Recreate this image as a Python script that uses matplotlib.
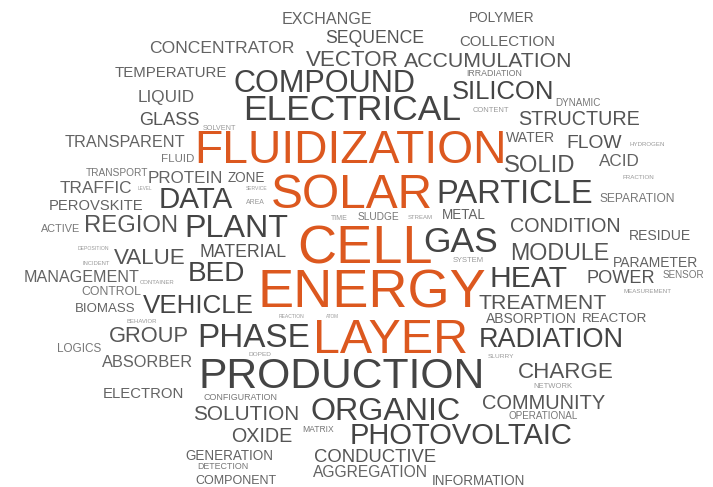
import matplotlib
matplotlib.use("Agg")
import matplotlib.pyplot as plt

# --------------------------------------------------
# Data: keywords and their weights (font height, px)
# --------------------------------------------------

WORDS = [
    "FLUIDIZATION", "SOLAR", "CELL", "ENERGY", "LAYER", "PRODUCTION",
    "ELECTRICAL", "COMPOUND", "PARTICLE", "GAS", "PLANT", "DATA", "HEAT",
    "PHASE", "ORGANIC", "PHOTOVOLTAIC", "SILICON", "BED", "VEHICLE",
    "RADIATION", "REGION", "SOLID", "MODULE", "VALUE", "VECTOR",
    "ACCUMULATION", "CHARGE", "GROUP", "TREATMENT", "SOLUTION", "COMMUNITY",
    "STRUCTURE", "CONDITION", "OXIDE", "FLOW", "MATERIAL", "CONDUCTIVE",
    "POWER", "GLASS", "SEQUENCE", "CONCENTRATOR", "TRAFFIC", "LIQUID",
    "ACID", "PROTEIN", "ABSORBER", "EXCHANGE", "TRANSPARENT", "MANAGEMENT",
    "AGGREGATION", "TEMPERATURE", "COLLECTION", "ELECTRON", "PEROVSKITE",
    "RESIDUE", "WATER", "ABSORPTION", "PARAMETER", "POLYMER", "ZONE",
    "METAL", "INFORMATION", "GENERATION", "REACTOR", "BIOMASS", "COMPONENT",
    "CONTROL", "SEPARATION", "LOGICS", "FLUID", "ACTIVE", "SLUDGE",
    "TRANSPORT", "SENSOR", "DYNAMIC", "OPERATIONAL", "CONFIGURATION",
    "DETECTION", "IRRADIATION", "MATRIX", "NETWORK", "SYSTEM", "CONTENT",
    "SOLVENT", "TIME", "AREA", "DOPED", "SLURRY", "FRACTION", "HYDROGEN",
    "MEASUREMENT", "STREAM", "BEHAVIOR", "CONTAINER", "INCIDENT",
    "DEPOSITION", "REACTION", "SERVICE", "LEVEL", "ATOM",
]

WEIGHTS = [
    44.5, 46, 52, 52, 46.5, 41,
    34, 29.5, 31.5, 34, 31, 28.5, 29,
    32, 31, 28, 24.7, 27, 25,
    26, 23, 23, 22.4, 21.5, 21.5,
    20.5, 21.5, 21, 20.5, 20, 19.3,
    19, 19, 19, 18.5, 17, 17.8,
    17.5, 17.5, 17, 16.8, 16.6, 16.5,
    16.5, 16.4, 15.7, 15.5, 15.6, 15.5,
    15, 14.4, 14.4, 14.3, 14.2,
    13.5, 13.5, 13.3, 13.3, 13.1, 13,
    13, 13, 13, 12.9, 12.7, 12,
    11.8, 11.5, 11.3, 11, 10.5, 9.8,
    9.8, 9.5, 9.5, 9.5, 8.5,
    8.5, 8.4, 8.2, 7.4, 7.3, 7.2,
    7, 6.7, 6.6, 6.2, 6.2, 6, 5.9,
    5.9, 5.8, 5.8, 5.8, 5.5,
    4.9, 4.8, 4.8, 4.5, 4.5,
]

# --------------------------------------------------
# Layout: word centre x and baseline y (pixels)
# --------------------------------------------------

POS_X = [
    351, 352, 364.5, 371.5, 391, 341.5,
    352.5, 324.5, 514.5, 461, 236.5, 196, 529,
    254, 386, 461.5, 503.5, 216.5, 198,
    551, 131, 539.5, 560, 149.5, 352.5,
    488.5, 566, 148.5, 542.5, 246.5, 543.5,
    579.5, 565, 261.5, 594.5, 243, 375,
    621, 169.5, 375, 222, 96, 166.5,
    619.5, 185.5, 147.5, 327, 125, 81.5,
    370, 170.5, 507, 143, 96.5,
    659.5, 531, 531.5, 655.5, 502, 246.5,
    463.5, 478.5, 229, 614.5, 105, 236,
    111.5, 637.5, 79.5, 178, 61, 378,
    116.5, 683, 578, 543.5, 240.5,
    222.5, 494, 318.5, 553, 468, 490.5,
    219.5, 339, 255, 260, 500.5, 638.5, 647,
    648, 420, 142, 157, 96,
    93, 291.5, 256.5, 145, 332.5,
]

POS_Y = [
    163, 208, 263, 308, 353, 388,
    120, 92, 203, 252, 237, 208, 287,
    347, 420, 444, 99, 281, 313,
    347, 232, 172, 260, 264, 66,
    67, 378, 342, 309, 420, 409,
    125, 232, 442, 148, 257, 462,
    283, 125, 43, 53, 193, 102,
    166, 183, 367, 24, 147, 282,
    477, 77, 46, 398, 210,
    240, 142, 323, 267, 22, 182,
    219, 485, 460, 322, 312, 484,
    295, 202, 352, 162, 232, 220,
    176, 278, 106, 419, 400,
    469, 76, 432, 388, 262, 112,
    129.5, 220, 204, 356, 358, 179, 146,
    293, 219, 323, 284, 265,
    250.5, 318.5, 189.5, 190, 318.5,
]

W, H, DPI = 713, 487, 100
SCALE = 1.04  # ink width vs advance width

ORANGE = "#dc581f"


def word_color(size):
    if size >= 44:
        return ORANGE
    if size >= 24:
        return "#444444"
    if size >= 17:
        return "#555555"
    if size >= 12:
        return "#636363"
    if size >= 8:
        return "#777777"
    return "#999999"


fig = plt.figure(figsize=(W / DPI, H / DPI), dpi=DPI)
ax = fig.add_axes([0, 0, 1, 1])
ax.set_xlim(0, W)
ax.set_ylim(H, 0)
ax.axis("off")

for word, size, x, y in zip(WORDS, WEIGHTS, POS_X, POS_Y):
    ax.text(
        x, y, word,
        fontsize=size * SCALE * 72 / DPI,
        family="Liberation Sans",
        color=word_color(size),
        ha="center",
        va="baseline",
    )

fig.savefig("out.png", dpi=DPI)
